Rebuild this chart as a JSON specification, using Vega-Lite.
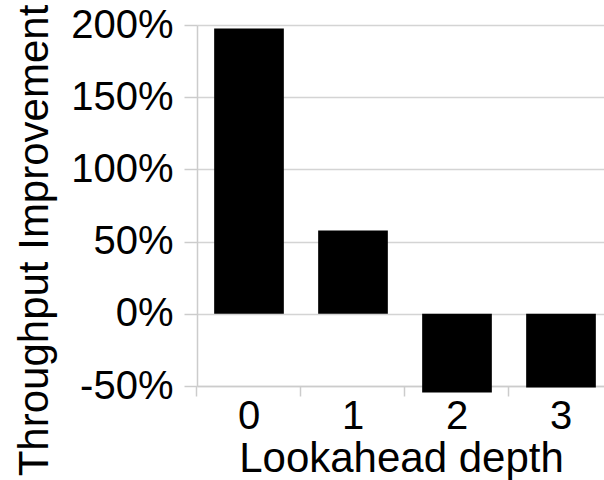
{
  "$schema": "https://vega.github.io/schema/vega-lite/v6.json",
  "autosize": {"type": "none"},
  "padding": {"left": 197, "top": 25, "right": 0, "bottom": 94},
  "width": 407,
  "height": 361,
  "config": {
    "view": {"stroke": null},
    "font": "Liberation Sans",
    "axis": {
      "labelFont": "Liberation Sans",
      "titleFont": "Liberation Sans",
      "labelFontSize": 40,
      "titleFontSize": 42,
      "labelColor": "#000000",
      "titleColor": "#000000",
      "titleFontWeight": "normal",
      "domainColor": "#cccccc",
      "tickColor": "#cccccc",
      "gridColor": "#d4d4d4",
      "domainWidth": 1.5,
      "tickWidth": 1.5,
      "gridWidth": 1.5
    }
  },
  "data": {
    "values": [
      {"depth": "0", "improvement": 1.975},
      {"depth": "1", "improvement": 0.577},
      {"depth": "2", "improvement": -0.545},
      {"depth": "3", "improvement": -0.51}
    ]
  },
  "mark": {"type": "bar", "color": "#000000"},
  "encoding": {
    "x": {
      "field": "depth",
      "type": "nominal",
      "scale": {"range": [0, 416], "paddingInner": 0.33, "paddingOuter": 0.165},
      "axis": {
        "title": "Lookahead depth",
        "labelAngle": 0,
        "bandPosition": -0.247,
        "tickSize": 10,
        "labelPadding": 0,
        "grid": false,
        "titleX": 204,
        "titleY": 85,
        "titleBaseline": "alphabetic",
        "titleAnchor": "middle",
        "titleAlign": "center"
      }
    },
    "y": {
      "field": "improvement",
      "type": "quantitative",
      "scale": {"domain": [-0.5, 2], "nice": false, "zero": false},
      "axis": {
        "title": "Throughput Improvement",
        "values": [-0.5, 0, 0.5, 1, 1.5, 2],
        "labelExpr": "round(datum.value * 100) + '%'",
        "tickSize": 13,
        "labelPadding": 11,
        "grid": true,
        "titleAngle": -90,
        "titleX": -150,
        "titleY": 215,
        "titleBaseline": "alphabetic",
        "titleAlign": "center",
        "titleAnchor": "middle"
      }
    }
  }
}
